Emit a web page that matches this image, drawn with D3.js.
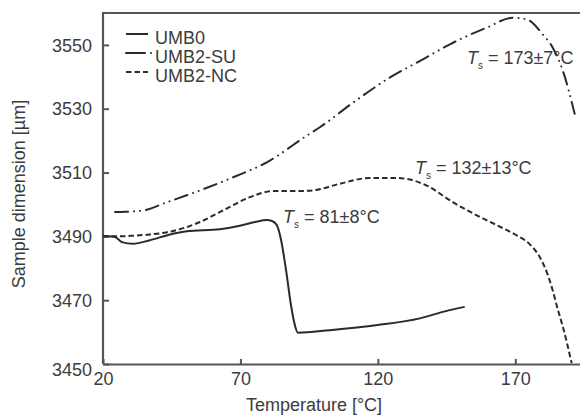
<!DOCTYPE html>
<html>
<head>
<meta charset="utf-8">
<script src="https://cdn.jsdelivr.net/npm/d3@7/dist/d3.min.js"></script>
<style>
  html, body { margin: 0; padding: 0; background: #fff; }
  svg { display: block; font-family: "Liberation Sans", Arial, sans-serif; }
</style>
</head>
<body>
<svg id="chart" width="580" height="417"></svg>
<script>
// Dilatometer curves: sample dimension vs temperature
const umb0Temp = [20, 21.8, 24.4, 26.9, 30.9, 37.1, 44.4, 50.5, 62.5, 69.8, 75.3, 79.6, 81.5, 83.3, 84.8, 86.6, 88.4, 89.8, 90.9, 102.5, 119.9, 135.3, 144.4, 151.6];
const umb0Dim  = [3490, 3490, 3489.8, 3488.2, 3487.7, 3488.8, 3490.6, 3491.6, 3492.2, 3493.3, 3494.5, 3495.1, 3494.8, 3493.4, 3488.8, 3479.4, 3468.4, 3462.2, 3459.8, 3460.6, 3462.2, 3464.3, 3466.5, 3467.9];

const suTemp = [24.4, 28, 34.5, 43.3, 55.3, 67.3, 79.6, 94.2, 98.9, 111.6, 124.4, 136.4, 146.2, 159.6, 169.1, 174.2, 180, 183.6, 187.3, 191.6];
const suDim  = [3497.6, 3497.7, 3498.1, 3500.7, 3504.4, 3508.5, 3513.2, 3521.6, 3524.2, 3532.3, 3539.8, 3545.5, 3550.2, 3555.4, 3558.5, 3558, 3553.3, 3549.2, 3541.9, 3528.4];

const ncTemp = [20, 25.5, 30.9, 37.1, 43.3, 55.3, 63.6, 73.5, 81.8, 91.6, 96.4, 106.2, 117.1, 126.2, 131.6, 137.8, 147.3, 156, 163.3, 170.5, 175.3, 178.9, 181.8, 183.6, 185.5, 187.3, 190.5];
const ncDim  = [3490, 3490, 3490.2, 3490.6, 3491.3, 3494.5, 3498.1, 3502.3, 3504.2, 3504.2, 3504.4, 3506.5, 3508.3, 3508.3, 3507.8, 3505.9, 3500.7, 3496.6, 3493.5, 3490.3, 3487.5, 3483.5, 3478, 3473.1, 3467, 3461.7, 3450.3];

const seriesNames = ["UMB0", "UMB2-SU", "UMB2-NC"];
const xTicks = [20, 70, 120, 170];
const yTicks = [3450, 3470, 3490, 3510, 3530, 3550];

// Softening-temperature labels: anchor [temperature, dimension], value and uncertainty
const annoTemp  = [85.5, 133.5, 152.4];
const annoDim   = [3494.1, 3509.7, 3544.1];
const annoValue = [81, 132, 173];
const annoError = [8, 13, 7];

const svg = d3.select("#chart");
const margin = { left: 103, top: 13, bottom: 53 };
const W = 580, H = 417;
const plotRight = 584;

const x = d3.scaleLinear().domain([20, 195]).range([margin.left, plotRight]);
const y = d3.scaleLinear().domain([3450, 3560]).range([H - margin.bottom, margin.top]);

const textColor = "#3c3c3c";
const frameColor = "#555";
const lineColor = "#2a2a2a";
const fontFamily = "Liberation Sans, Arial, sans-serif";

// frame
const frame = svg.append("g");
frame.append("line").attr("x1", x(20)).attr("x2", x(20)).attr("y1", y(3560)).attr("y2", y(3450))
  .attr("stroke", frameColor).attr("stroke-width", 2.2);
frame.append("line").attr("x1", x(20) - 1).attr("x2", plotRight).attr("y1", y(3560)).attr("y2", y(3560))
  .attr("stroke", frameColor).attr("stroke-width", 2.2);

// axes with inward ticks
const xAxis = d3.axisBottom(x).tickValues(xTicks).tickFormat(d3.format("d"))
  .tickSize(-5).tickPadding(8).tickSizeOuter(0);
const gx = svg.append("g").attr("transform", `translate(0,${y(3450)})`).call(xAxis);
gx.select(".domain").attr("stroke", frameColor).attr("stroke-width", 2.2);
gx.selectAll(".tick line").attr("stroke", frameColor).attr("stroke-width", 2);
gx.selectAll(".tick text").attr("fill", textColor).attr("font-size", 18).attr("font-family", fontFamily);

const yAxis = d3.axisLeft(y).tickValues(yTicks).tickFormat(d3.format("d"))
  .tickSize(-6).tickPadding(11).tickSizeOuter(0);
const gy = svg.append("g").attr("transform", `translate(${x(20)},0)`).call(yAxis);
gy.select(".domain").remove();
gy.selectAll(".tick line").attr("stroke", frameColor).attr("stroke-width", 2);
gy.selectAll(".tick text").attr("fill", textColor).attr("font-size", 18).attr("font-family", fontFamily)
  .attr("dy", d => d === 3450 ? "0.62em" : "0.34em");

// axis titles
svg.append("text").attr("x", 314).attr("y", 411).attr("text-anchor", "middle")
  .attr("fill", textColor).attr("font-size", 18).text("Temperature [°C]");
svg.append("text").attr("transform", "translate(25,194) rotate(-90)").attr("text-anchor", "middle")
  .attr("fill", textColor).attr("font-size", 18).text("Sample dimension [µm]");

// curves
const line = d3.line().x(d => x(d[0])).y(d => y(d[1])).curve(d3.curveMonotoneX);
const zip = (a, b) => a.map((v, i) => [v, b[i]]);
const styles = [
  { dash: null, cap: "butt" },
  { dash: "13,6,0.01,6,0.01,6", cap: "round" },
  { dash: "5.5,3", cap: "butt" }
];
const curves = [zip(umb0Temp, umb0Dim), zip(suTemp, suDim), zip(ncTemp, ncDim)];

const plot = svg.append("g");
[2, 1, 0].forEach(i => {
  plot.append("path").datum(curves[i]).attr("d", line)
    .attr("fill", "none").attr("stroke", lineColor).attr("stroke-width", 2)
    .attr("stroke-linecap", styles[i].cap)
    .attr("stroke-dasharray", styles[i].dash);
});

// legend
const legend = svg.append("g");
seriesNames.forEach((name, i) => {
  const ly = 34 + i * 19;
  legend.append("line").attr("x1", 126).attr("x2", i === 1 ? 153 : 148).attr("y1", ly).attr("y2", ly)
    .attr("stroke", lineColor).attr("stroke-width", 2)
    .attr("stroke-linecap", i === 1 ? "round" : "butt")
    .attr("stroke-dasharray", i === 1 ? "19,6,0.01,20" : (i === 2 ? "5.5,3" : null));
  legend.append("text").attr("x", 155).attr("y", ly + 9.5).attr("fill", textColor)
    .attr("font-size", 18).text(name);
});

// annotations
const anno = svg.append("g");
annoTemp.forEach((t, i) => {
  const tx = anno.append("text").attr("x", x(t)).attr("y", y(annoDim[i]))
    .attr("fill", textColor).attr("font-size", 18);
  tx.append("tspan").attr("font-style", "italic").text("T");
  tx.append("tspan").attr("font-size", 10).attr("dy", 5).text("s");
  tx.append("tspan").attr("dy", -5).text(` = ${annoValue[i]}±${annoError[i]}°C`);
});
</script>
</body>
</html>
